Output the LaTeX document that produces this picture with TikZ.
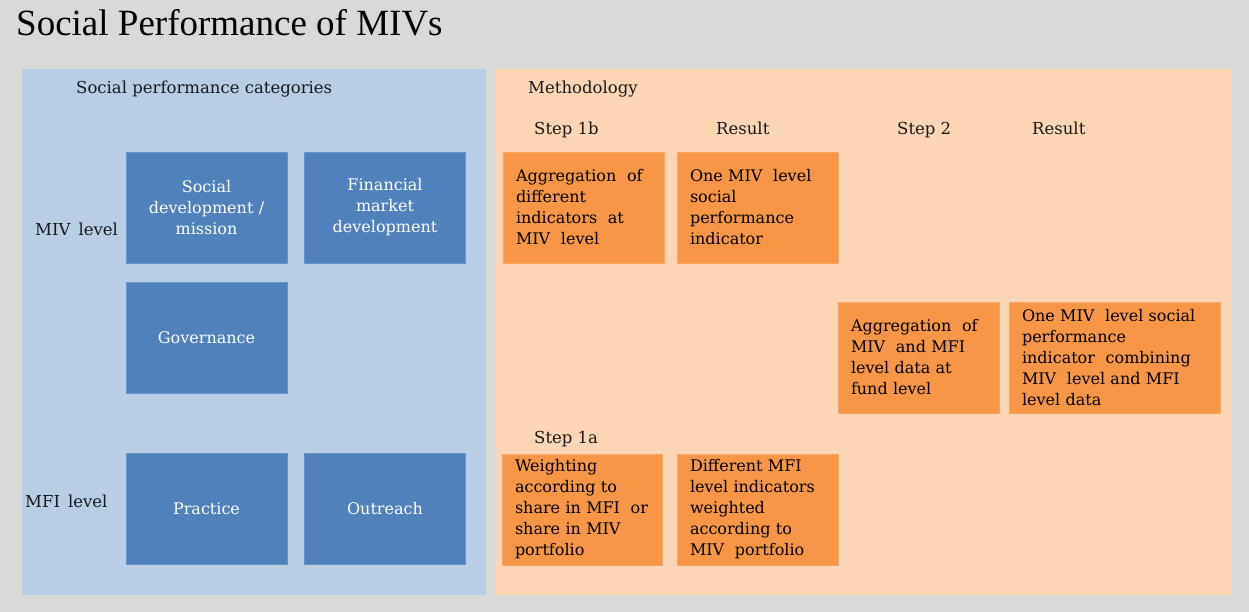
\documentclass[tikz,border=0pt]{standalone}
\usepackage{fontspec}
\setmainfont{DejaVu Serif}
\newfontfamily\titlefont{Liberation Serif}
\definecolor{pagegray}{HTML}{D9D9D9}
\definecolor{panelblue}{HTML}{B9CDE5}
\definecolor{boxblue}{HTML}{4F81BD}
\definecolor{panelorange}{HTML}{FCD5B5}
\definecolor{boxorange}{HTML}{F79646}
\tikzset{
  bodyfont/.style={font=\fontsize{16}{21}\selectfont},
  catbox/.style={bodyfont, fill=boxblue, draw=boxblue!85!white, line width=0.8pt,
    text=white, align=center, minimum width=161pt, minimum height=111pt,
    inner xsep=6pt, text width=149pt},
  methbox/.style={bodyfont, fill=boxorange, draw=boxorange!85!white, line width=0.8pt,
    text=black, align=left, minimum height=111pt, inner xsep=13pt},
  lbl/.style={font=\fontsize{16.5}{21}\selectfont, anchor=base west, inner sep=0pt, text=black!90}
}
\begin{document}
\begin{tikzpicture}[x=1pt,y=-1pt]
  \useasboundingbox (0,0) rectangle (1249,612);
  % page background and the two panels
  \fill[pagegray] (0,0) rectangle (1249,612);
  \fill[panelblue] (22,69) rectangle (486,595);
  \fill[panelorange] (496,69) rectangle (1232,595);

  % title
  \node[anchor=base west, inner sep=0pt, font=\titlefont\fontsize{37}{40}\selectfont]
    (title) at (16,36) {Social Performance of MIVs};

  % panel headings and row / column labels
  \node[lbl] (catlbl) at (76,94) {Social performance categories};
  \node[lbl] (methlbl) at (528,94) {Methodology};
  \node[lbl] (step1b) at (534,135) {Step 1b};
  \node[lbl] (res1) at (716,135) {Result};
  \node[lbl] (step2) at (897,135) {Step 2};
  \node[lbl] (res2) at (1032,135) {Result};
  \node[lbl] (step1a) at (534,443) {Step 1a};
  \node[lbl] (mivlbl) at (35,236) {MIV\, level};
  \node[lbl] (mfilbl) at (25,507) {MFI\, level};

  % social performance categories
  \node[catbox] (social) at (206.5,207.5) {Social\\development /\\mission};
  \node[catbox] (finmkt) at (385,207.5) {Financial\\market\\development};
  \node[catbox] (gov) at (206.5,338) {Governance};
  \node[catbox] (practice) at (206.5,509) {Practice};
  \node[catbox] (outreach) at (385,509) {Outreach};

  % methodology steps and results
  \node[methbox, minimum width=161pt, text width=135pt] (agg1b) at (583.5,207.5)
    {Aggregation\ \ of\\different\\indicators\ \ at\\MIV\ \ level};
  \node[methbox, minimum width=161pt, text width=135pt] (one1) at (757.5,207.5)
    {One MIV\ \ level\\social\\performance\\indicator};
  \node[methbox, minimum width=161pt, text width=135pt] (agg2) at (918.5,357.5)
    {Aggregation\ \ of\\MIV\ \ and MFI\\level data at\\fund level};
  \node[methbox, minimum width=211pt, text width=185pt] (one2) at (1114.5,357.5)
    {One MIV\ \ level social\\performance\\indicator\ \ combining\\MIV\ \ level and MFI\\level data};
  \node[methbox, minimum width=160pt, text width=134pt, inner xsep=12pt] (weight) at (582,509.5)
    {Weighting\\according to\\share in MFI\ \ or\\share in MIV\\portfolio};
  \node[methbox, minimum width=161pt, text width=135pt] (diffmfi) at (757.5,509.5)
    {Different MFI\\level indicators\\weighted\\according to\\MIV\ \ portfolio};
\end{tikzpicture}
\end{document}
